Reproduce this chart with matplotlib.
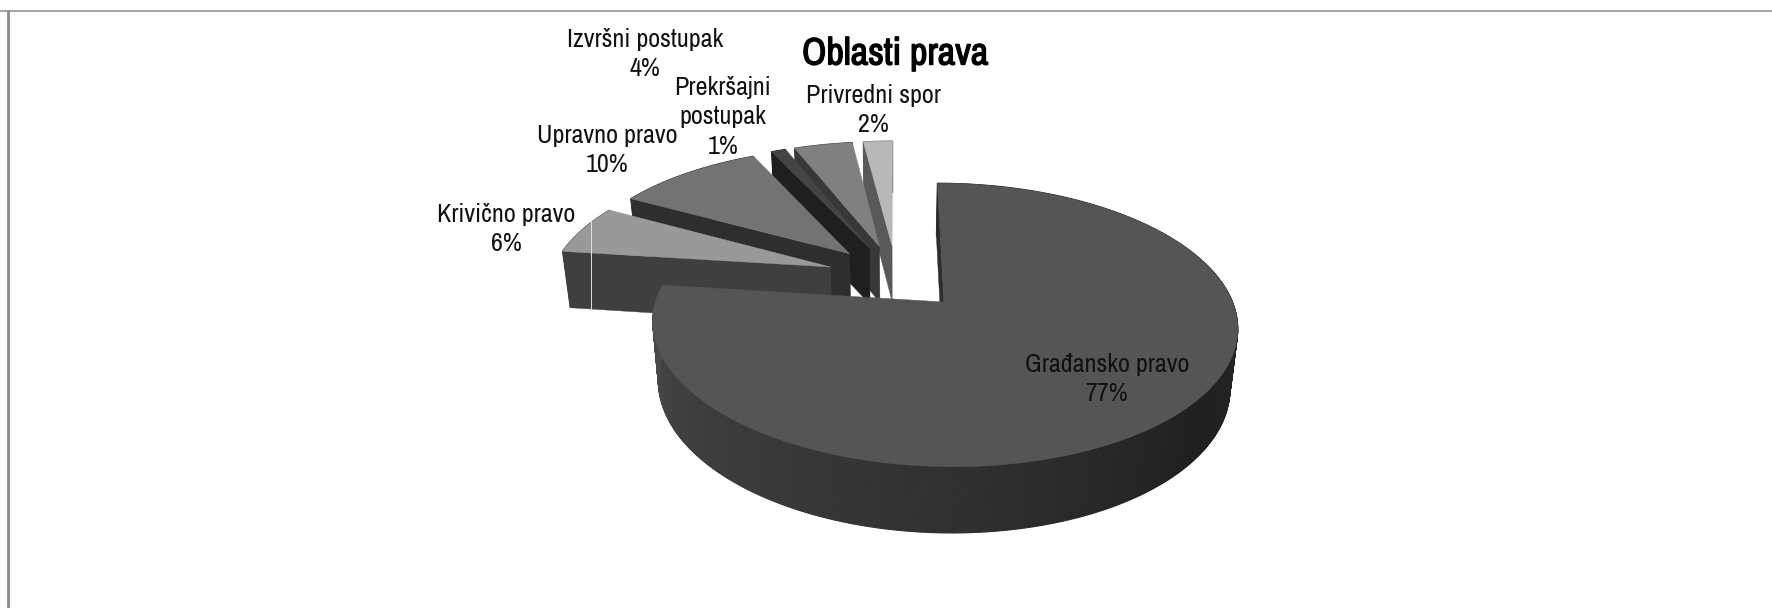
import numpy as np
import matplotlib
matplotlib.use("Agg")
import matplotlib.pyplot as plt
import matplotlib.patheffects as pe

plt.rcParams['font.family'] = ['Archivo Narrow', 'Liberation Sans', 'DejaVu Sans']

categories = ["Građansko pravo", "Krivično pravo", "Upravno pravo",
              "Prekršajni\npostupak", "Izvršni postupak", "Privredni spor"]
values = [77, 6, 10, 1, 4, 2]
top_colors = ["#555555", "#999999", "#737373", "#444444", "#808080", "#b8b8b8"]
side_colors = ["#2e2e2e", "#3f3f3f", "#2e2e2e", "#1f1f1f", "#383838", "#595959"]
label_xy = [(1107, 379), (506, 229), (607, 150), (723, 117), (645, 54), (873, 110)]

# fake 3d: circle in a plane seen in perspective, pixel units
explode = 0.25
rx, ry, k = 288.5, 138, 0.162
apex_x, apex_y = 944, 302
depth, shrink = 58.7, 0.977

fracs = np.array(values) / sum(values)
ends = np.cumsum(fracs) * 360
starts = ends - fracs * 360
mids = np.radians((starts + ends) / 2)

# main slice apex is the anchor of the projection
off_x = explode * np.sin(mids[0])
off_y = explode * np.cos(mids[0])
vx = apex_x - rx * off_x


def project(X, Y, low=False):
    Yp = Y - off_y
    w = 1 + k * Yp
    if low:
        return vx + shrink * rx * X / w, apex_y + (-shrink * ry * Yp + depth) / w
    return vx + rx * X / w, apex_y - ry * Yp / w


def slice_xy(i, theta):
    t = np.radians(theta)
    cx, cy = explode * np.sin(mids[i]), explode * np.cos(mids[i])
    return cx + np.sin(t), cy + np.cos(t), cx, cy


fig = plt.figure(figsize=(17.72, 6.08), dpi=100)
ax = fig.add_axes([0, 0, 1, 1])
ax.set_xlim(0, 1772)
ax.set_ylim(608, 0)
ax.axis('off')

ax.plot([0, 1772], [10.5, 10.5], color='#8a8a8a', lw=1.1, solid_capstyle='butt')
ax.plot([8.5, 8.5], [10, 608], color='#8a8a8a', lw=2, solid_capstyle='butt')

wall_angles = [90, 130, 180, 230, 277]
wall_grays = [0.15, 0.125, 0.19, 0.24, 0.30]

for i in list(range(1, len(values)))[::-1] + [0]:
    th = np.linspace(starts[i], ends[i], max(int(ends[i] - starts[i]) * 2, 8))
    X, Y, cx, cy = slice_xy(i, th)

    # outer wall
    tx, ty = project(X, Y)
    bx, by = project(X, Y, low=True)
    for j in range(len(th) - 1):
        if i == 0:
            g = np.interp(th[j], wall_angles, wall_grays)
            c = (g, g, g)
        else:
            c = side_colors[i]
        ax.fill([tx[j], tx[j + 1], bx[j + 1], bx[j]], [ty[j], ty[j + 1], by[j + 1], by[j]],
                color=c, lw=0.8)

    # radial face at the start angle
    ax0, ay0 = project(cx, cy)
    ax1, ay1 = project(cx, cy, low=True)
    ax.fill([ax0, tx[0], bx[0], ax1], [ay0, ty[0], by[0], ay1], color=side_colors[i], lw=0.3)

    # top
    ax.fill(np.r_[ax0, tx], np.r_[ay0, ty], color=top_colors[i], lw=0.3)

# light scratch across the Krivično slice in the original
ax.plot([591, 591], [220, 310], color='#e4e4e4', lw=0.7)

for name, v, (lx, ly) in zip(categories, values, label_xy):
    ax.text(lx, ly, f"{name}\n{v}%", ha='center', va='center', fontsize=18.8,
            color='#111111', linespacing=1.36)

# the narrow face has no bold cut here, so thicken it with a stroke
ax.text(895, 54, "Oblasti prava", ha='center', va='center', fontsize=27.5,
        fontweight='bold', color='black',
        path_effects=[pe.withStroke(linewidth=1.0, foreground='black')])

fig.savefig("out.png", dpi=100)
